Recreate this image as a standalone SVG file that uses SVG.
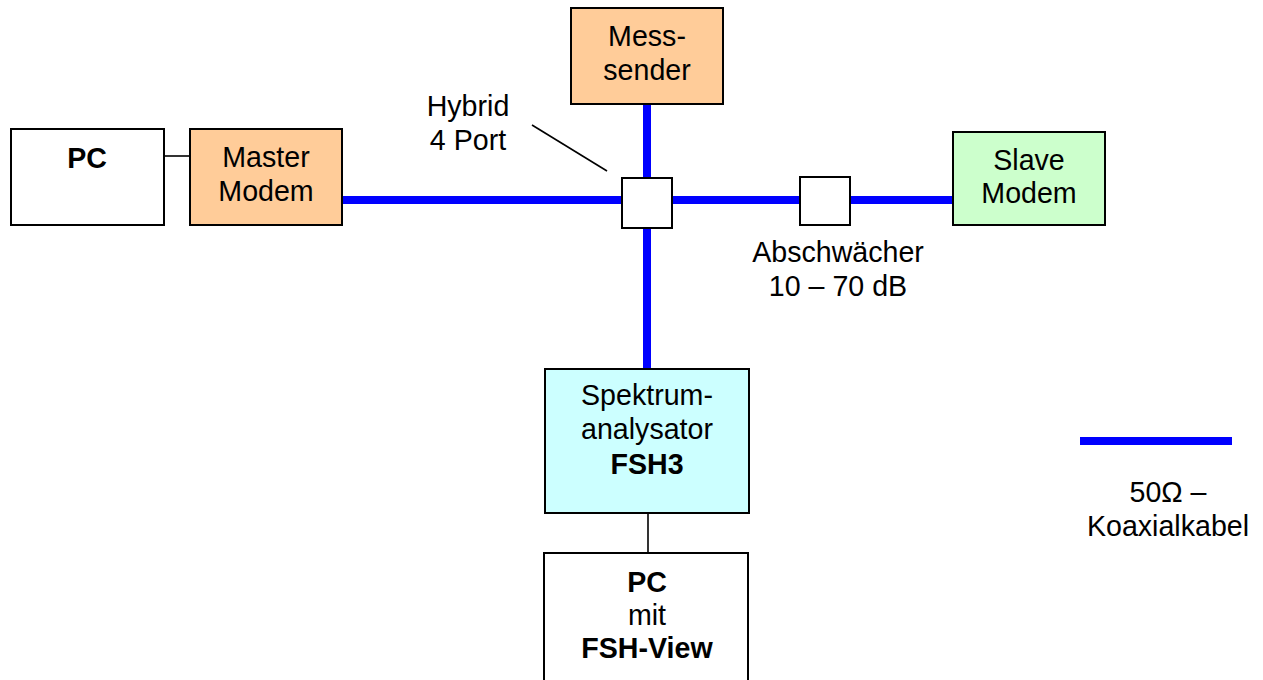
<svg xmlns="http://www.w3.org/2000/svg" width="1263" height="680" viewBox="0 0 1263 680">
<style>
.box{stroke:#000;stroke-width:2}
.t{font-family:"Liberation Sans",Arial,sans-serif;font-size:28.6px;fill:#000;text-anchor:middle}
.b{font-weight:bold}
.coax{stroke:#0000FF;stroke-width:8;fill:none}
.thin{stroke:#000;stroke-width:1.6;fill:none}
</style>
<rect width="1263" height="680" fill="#fff"/>
<g id="connectors">
<line class="coax" x1="342" y1="200" x2="622" y2="200"/>
<line class="coax" x1="672" y1="200" x2="800" y2="200"/>
<line class="coax" x1="850" y1="200" x2="953" y2="200"/>
<line class="coax" x1="647" y1="105" x2="647" y2="178"/>
<line class="coax" x1="647" y1="228" x2="647" y2="370"/>
<line class="thin" x1="164" y1="156" x2="190" y2="156"/>
<line class="thin" x1="648" y1="513" x2="648" y2="553"/>
<line class="thin" x1="532" y1="125" x2="607" y2="171"/>
</g>
<g id="pc1">
<rect class="box" x="11" y="129" width="153" height="96" fill="#fff"/>
<text class="t b" x="87" y="168">PC</text>
</g>
<g id="master">
<rect class="box" x="190" y="129" width="152" height="96" fill="#FFCC99"/>
<text class="t" x="266" y="167">Master</text>
<text class="t" x="266" y="201">Modem</text>
</g>
<g id="messsender">
<rect class="box" x="571" y="8" width="152" height="96" fill="#FFCC99"/>
<text class="t" x="647" y="46">Mess-</text>
<text class="t" x="647" y="80">sender</text>
</g>
<g id="hybrid">
<rect class="box" x="622" y="178" width="50" height="50" fill="#fff"/>
<text class="t" x="468" y="116">Hybrid</text>
<text class="t" x="468" y="150">4 Port</text>
</g>
<g id="abschwaecher">
<rect class="box" x="800" y="177" width="50" height="48" fill="#fff"/>
<text class="t" x="838" y="262">Abschwächer</text>
<text class="t" x="838" y="296">10 – 70 dB</text>
</g>
<g id="slave">
<rect class="box" x="953" y="132" width="152" height="93" fill="#CCFFCC"/>
<text class="t" x="1029" y="170">Slave</text>
<text class="t" x="1029" y="203">Modem</text>
</g>
<g id="spektrum">
<rect class="box" x="545" y="369" width="204" height="144" fill="#CCFFFF"/>
<text class="t" x="647" y="405">Spektrum-</text>
<text class="t" x="647" y="439">analysator</text>
<text class="t b" x="647" y="474">FSH3</text>
</g>
<g id="pc2">
<rect class="box" x="544" y="553" width="204" height="140" fill="#fff"/>
<text class="t b" x="647" y="592">PC</text>
<text class="t" x="647" y="625">mit</text>
<text class="t b" x="647" y="658">FSH-View</text>
</g>
<g id="legend">
<line class="coax" x1="1080" y1="441" x2="1232" y2="441"/>
<text class="t" x="1168" y="502">50Ω –</text>
<text class="t" x="1168" y="536">Koaxialkabel</text>
</g>
</svg>
